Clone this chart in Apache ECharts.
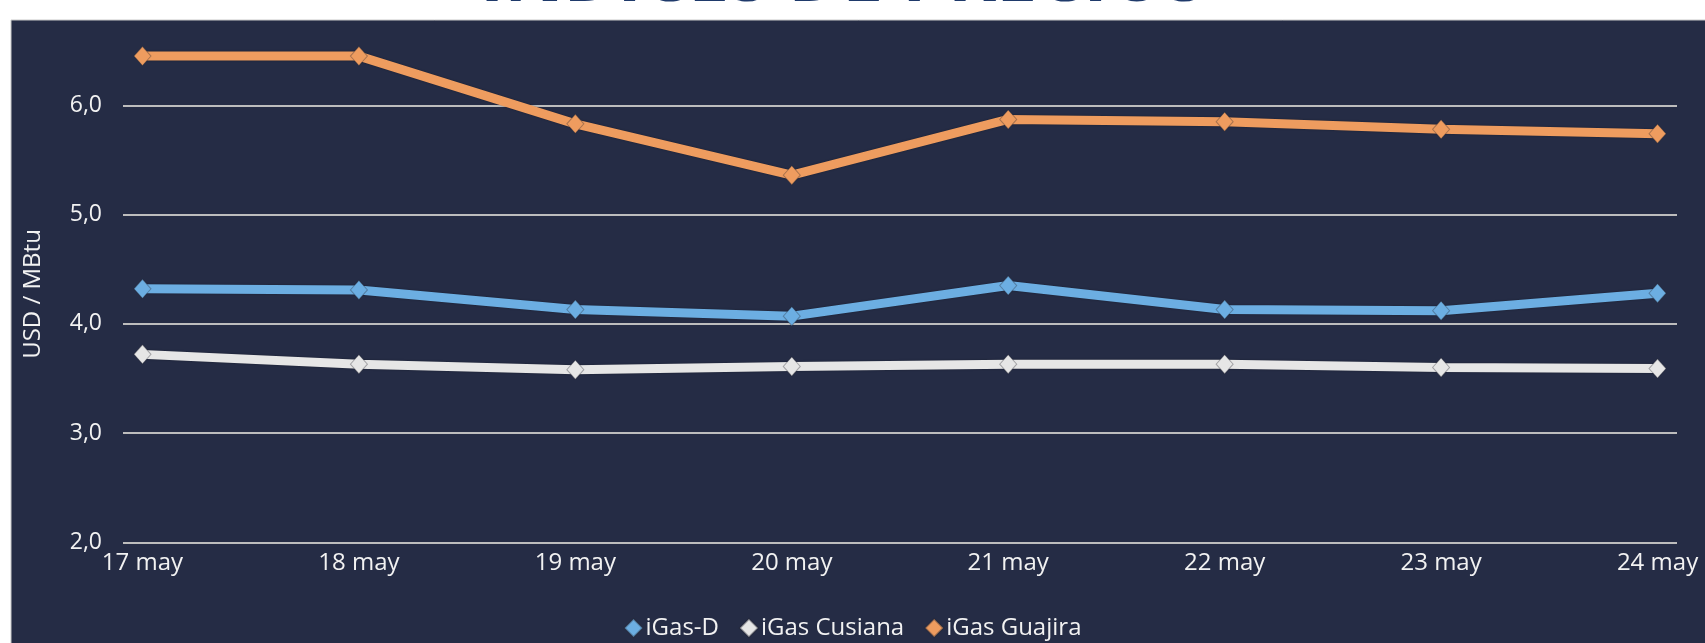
<!DOCTYPE html>
<html>
<head>
<meta charset="utf-8">
<script src="https://cdn.jsdelivr.net/npm/echarts@6/dist/echarts.min.js"></script>
<style>
html,body{margin:0;padding:0;background:#ffffff;}
#chart{width:1705px;height:643px;}
</style>
</head>
<body>
<div id="chart"></div>
<script>
const dates = ['17 may','18 may','19 may','20 may','21 may','22 may','23 may','24 may'];
const igasD = [4.32, 4.31, 4.13, 4.07, 4.35, 4.13, 4.12, 4.28];
const igasCusiana = [3.72, 3.63, 3.58, 3.61, 3.63, 3.63, 3.60, 3.59];
const igasGuajira = [6.45, 6.45, 5.83, 5.36, 5.87, 5.85, 5.78, 5.74];
const seriesNames = ['iGas-D', 'iGas Cusiana', 'iGas Guajira'];
const yTicks = [2, 3, 4, 5, 6, 7];
const titleText = 'ÍNDICES DE PRECIOS';
const yAxisName = 'USD / MBtu';

const colors = ['#6CAEE2', '#E6E6E6', '#EE9C5F'];
const font = '"Open Sans", "Noto Sans", sans-serif';

function pairs(arr) { return arr.map((v, i) => [i, v]); }

const chart = echarts.init(document.getElementById('chart'), null, {renderer: 'canvas'});

function mkSeries(name, data, color) {
  return {
    name: name,
    type: 'line',
    data: pairs(data),
    symbol: 'diamond',
    symbolSize: [17, 19],
    lineStyle: {width: 9, color: color, shadowColor: 'rgba(0,0,0,0.35)', shadowBlur: 2},
    itemStyle: {color: color, borderColor: 'rgba(40,40,50,0.35)', borderWidth: 1},
    emphasis: {disabled: true},
    animation: false
  };
}

chart.setOption({
  animation: false,
  backgroundColor: '#ffffff',
  textStyle: {fontFamily: font},
  graphic: [
    {
      type: 'rect', z: -10, silent: true,
      shape: {x: 11, y: 20, width: 1700, height: 630},
      style: {fill: '#252C45', stroke: '#C8C8C8', lineWidth: 1}
    },
    {
      type: 'text', silent: true,
      x: 843, y: -20,
      style: {
        text: titleText, fill: '#1F3A6B', font: 'bold 73px ' + font,
        textAlign: 'center', textVerticalAlign: 'middle'
      }
    },
    {
      type: 'text', silent: true,
      x: 33, y: 294, rotation: Math.PI / 2,
      style: {
        text: yAxisName, fill: '#F2F2F2', font: '24px ' + font,
        textAlign: 'center', textVerticalAlign: 'middle'
      }
    }
  ],
  grid: {left: 123, right: 28, top: -4, bottom: 100.7, outerBoundsMode: 'none', containLabel: false},
  legend: {
    data: seriesNames.map(n => ({name: n, icon: 'diamond'})),
    left: 'center',
    top: 611,
    itemWidth: 18,
    itemHeight: 18,
    itemGap: 20,
    textStyle: {color: '#F2F2F2', fontSize: 24, fontFamily: font, padding: [0, 0, 0, -2]}
  },
  xAxis: {
    type: 'value',
    min: -0.09,
    max: 7.09,
    splitLine: {show: false},
    axisLine: {show: false},
    axisTick: {show: false},
    axisLabel: {
      customValues: dates.map((d, i) => i),
      formatter: v => dates[Math.round(v)],
      color: '#F2F2F2', fontSize: 24, fontFamily: font, margin: 9
    }
  },
  yAxis: {
    type: 'value',
    min: yTicks[0],
    max: yTicks[yTicks.length - 1],
    interval: 1,
    axisLine: {show: false},
    axisTick: {show: false},
    splitLine: {lineStyle: {color: '#BDBDBD', width: 2}},
    axisLabel: {
      showMaxLabel: false,
      formatter: v => v.toFixed(1).replace('.', ','),
      color: '#F2F2F2', fontSize: 23, fontFamily: font, margin: 21
    }
  },
  series: [
    mkSeries(seriesNames[0], igasD, colors[0]),
    mkSeries(seriesNames[1], igasCusiana, colors[1]),
    mkSeries(seriesNames[2], igasGuajira, colors[2])
  ]
});
</script>
</body>
</html>
